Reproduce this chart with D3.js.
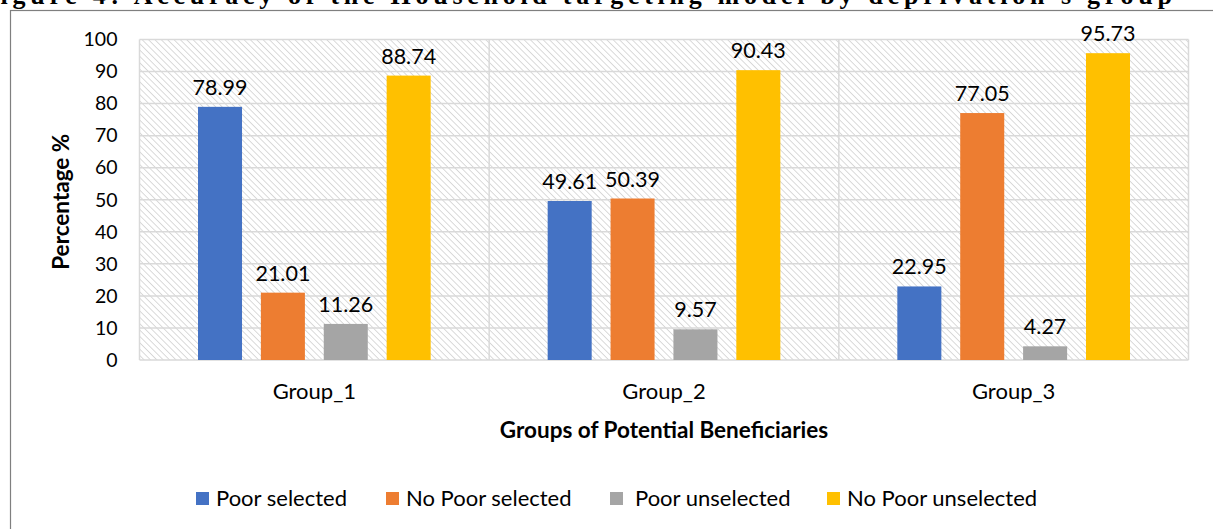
<!DOCTYPE html>
<html>
<head>
<meta charset="utf-8">
<script src="https://cdn.jsdelivr.net/npm/d3@7"></script>
<style>
  html, body { margin: 0; padding: 0; background: #fff; overflow: hidden; }
  svg { display: block; }
</style>
</head>
<body>
<svg id="chart" width="1213" height="529"></svg>
<script>
// Chart data
const groups = ["Group_1", "Group_2", "Group_3"];
const seriesNames = ["Poor selected", "No Poor selected", "Poor unselected", "No Poor unselected"];
const poorSelected = [78.99, 49.61, 22.95];
const noPoorSelected = [21.01, 50.39, 77.05];
const poorUnselected = [11.26, 9.57, 4.27];
const noPoorUnselected = [88.74, 90.43, 95.73];
const yTicks = [0, 10, 20, 30, 40, 50, 60, 70, 80, 90, 100];
const colors = ["#4472C4", "#ED7D31", "#A5A5A5", "#FFC000"];
const seriesValues = [poorSelected, noPoorSelected, poorUnselected, noPoorUnselected];

const svg = d3.select("#chart");
const font = "Lato, 'Open Sans', sans-serif";

// Caption above the chart frame
svg.append("text")
  .attr("x", -20).attr("y", 4)
  .attr("textLength", 1192)
  .attr("lengthAdjust", "spacing")
  .attr("font-family", "'Liberation Serif', 'DejaVu Serif', serif")
  .attr("font-weight", "bold")
  .attr("font-size", 26)
  .text("Figure 4: Accuracy of the Household targeting model by deprivation's group");

// Chart frame
svg.append("rect")
  .attr("x", 10.5).attr("y", 10.5)
  .attr("width", 1230).attr("height", 540)
  .attr("fill", "none")
  .attr("stroke", "#7f7f7f")
  .attr("stroke-width", 1.2);

// Hatched plot background
const defs = svg.append("defs");
const pat = defs.append("pattern")
  .attr("id", "hatch")
  .attr("patternUnits", "userSpaceOnUse")
  .attr("width", 4.5).attr("height", 4.5)
  .attr("patternTransform", "rotate(-45)");
pat.append("rect").attr("width", 4.5).attr("height", 4.5).attr("fill", "#ffffff");
pat.append("line")
  .attr("x1", 0).attr("y1", 0).attr("x2", 0).attr("y2", 4.5)
  .attr("stroke", "#d6d6d6").attr("stroke-width", 1.8);

const plot = { left: 139.5, right: 1188.5, top: 39.5, bottom: 360 };

const x0 = d3.scaleBand().domain(groups).range([plot.left, plot.right]).paddingInner(0).paddingOuter(0);
const x1 = d3.scaleBand().domain(seriesNames).range([58.5, x0.bandwidth() - 58.5]).paddingInner(0.3).paddingOuter(0);
const y = d3.scaleLinear().domain([0, 100]).range([plot.bottom, plot.top]);

svg.append("rect")
  .attr("x", plot.left).attr("y", plot.top)
  .attr("width", plot.right - plot.left).attr("height", plot.bottom - plot.top)
  .attr("fill", "url(#hatch)");

// Gridlines
const grid = svg.append("g").attr("stroke", "#d9d9d9").attr("stroke-width", 1.5);
grid.selectAll("line.h").data(yTicks).join("line")
  .attr("class", "h")
  .attr("x1", plot.left).attr("x2", plot.right)
  .attr("y1", d => y(d)).attr("y2", d => y(d));
const vLines = groups.map(g => x0(g)).concat([plot.right]);
grid.selectAll("line.v").data(vLines).join("line")
  .attr("class", "v")
  .attr("x1", d => d).attr("x2", d => d)
  .attr("y1", plot.top).attr("y2", plot.bottom);

// Y axis labels
const yAxis = d3.axisLeft(y).tickValues(yTicks).tickSize(0).tickPadding(22);
const ya = svg.append("g").attr("transform", `translate(${plot.left},0)`).call(yAxis);
ya.select(".domain").remove();
ya.selectAll("text").attr("font-family", font).attr("font-size", 19.5).attr("fill", "#000");

// X axis labels
const xAxis = d3.axisBottom(x0).tickSize(0).tickPadding(23);
const xa = svg.append("g").attr("transform", `translate(0,${plot.bottom})`).call(xAxis);
xa.select(".domain").remove();
xa.selectAll("text").attr("font-family", font).attr("font-size", 22).attr("fill", "#000");

// Bars
const barData = [];
groups.forEach((g, gi) => {
  seriesNames.forEach((s, si) => {
    barData.push({ group: g, series: s, value: seriesValues[si][gi], color: colors[si] });
  });
});

const bars = svg.append("g");
bars.selectAll("rect").data(barData).join("rect")
  .attr("x", d => x0(d.group) + x1(d.series))
  .attr("y", d => y(d.value))
  .attr("width", x1.bandwidth())
  .attr("height", d => y(0) - y(d.value))
  .attr("fill", d => d.color);

bars.selectAll("text").data(barData).join("text")
  .attr("x", d => x0(d.group) + x1(d.series) + x1.bandwidth() / 2)
  .attr("y", d => y(d.value) - 12)
  .attr("text-anchor", "middle")
  .attr("font-family", font)
  .attr("font-size", 21.5)
  .attr("fill", "#000")
  .text(d => d.value.toFixed(2));

// Axis titles
svg.append("text")
  .attr("x", (plot.left + plot.right) / 2).attr("y", 438)
  .attr("text-anchor", "middle")
  .attr("font-family", font).attr("font-weight", "bold").attr("font-size", 22.5)
  .text("Groups of Potential Beneficiaries");

svg.append("text")
  .attr("transform", `translate(69,${(plot.top + plot.bottom) / 2 + 2}) rotate(-90)`)
  .attr("text-anchor", "middle")
  .attr("font-family", font).attr("font-weight", "bold").attr("font-size", 22.5)
  .text("Percentage %");

// Legend
const legendX = [196, 386, 610, 827];
const legendLabelGap = [20, 20, 25, 20];
const legend = svg.append("g");
seriesNames.forEach((s, i) => {
  legend.append("rect")
    .attr("x", legendX[i]).attr("y", 492)
    .attr("width", 13).attr("height", 13)
    .attr("fill", colors[i]);
  legend.append("text")
    .attr("x", legendX[i] + legendLabelGap[i]).attr("y", 506)
    .attr("font-family", font).attr("font-size", 22)
    .attr("fill", "#000")
    .text(s);
});
</script>
</body>
</html>
